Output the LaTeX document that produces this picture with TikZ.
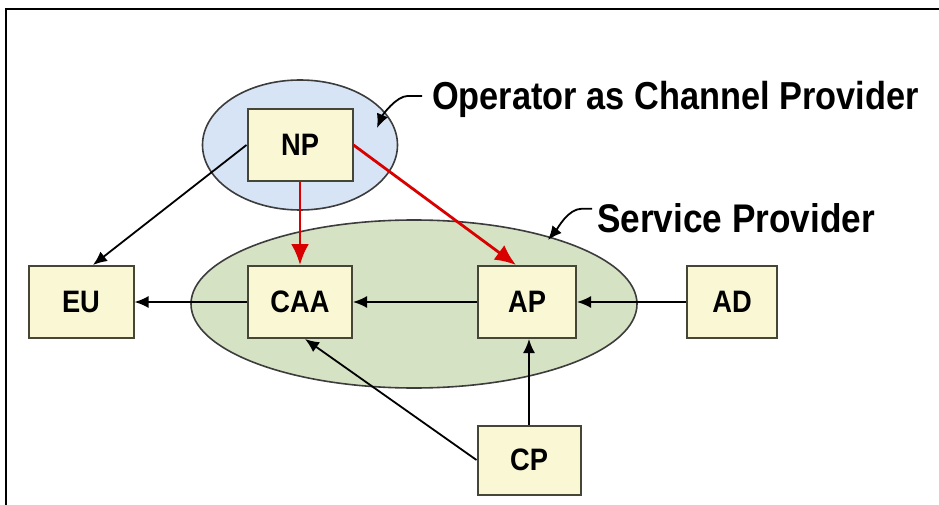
\documentclass[tikz,border=0pt]{standalone}
\usepackage{fontspec}
\setmainfont{Liberation Sans}[FakeStretch=0.88]
\usepackage{tikz}
\usetikzlibrary{arrows.meta,shapes.geometric,positioning}
\tikzset{>/.tip={Latex[length=14pt,width=12pt]}}
\tikzset{Big/.tip={Latex[length=21pt,width=18pt]}}
\definecolor{boxfill}{RGB}{250,247,212}
\definecolor{boxline}{RGB}{70,70,55}
\definecolor{ovalline}{RGB}{60,60,60}
\definecolor{bluefill}{RGB}{215,228,245}
\definecolor{greenfill}{RGB}{214,226,196}
\colorlet{alert}{red!85!black}
\tikzset{box/.style={draw=boxline,fill=boxfill,line width=2pt,minimum height=72pt,font=\fontsize{31}{33}\selectfont\bfseries}}
\tikzset{oval/.style={ellipse,draw=ovalline,line width=1.6pt,inner sep=0pt}}
\tikzset{link/.style={->,line width=1.8pt}}
\tikzset{alertlink/.style={-Big,draw=alert,line width=2.8pt}}
\tikzset{caption/.style={anchor=base west,inner sep=0pt,font=\fontsize{40}{44}\selectfont\bfseries}}

\begin{document}
\begin{tikzpicture}[x=1pt,y=-1pt]
        \useasboundingbox (0,0) rectangle (939,505);
        \draw[line width=2pt] (6,505) -- (6,9) -- (939,9);
        % groups
        \node(opOval)[oval,fill=bluefill,minimum width=195pt,minimum height=130pt] at (300,145){};
        \node(spOval)[oval,fill=greenfill,minimum width=446pt,minimum height=168pt] at (414,304){};
        % parties
        \node(NP)[box,minimum width=105pt] at (300,145){NP};
        \node(EU)[box,minimum width=105pt] at (81,302){EU};
        \node(CAA)[box,minimum width=104pt] at (300,302){CAA};
        \node(AP)[box,minimum width=98pt] at (527,302){AP};
        \node(AD)[box,minimum width=90pt] at (732,302){AD};
        \node(CP)[box,minimum width=103pt,minimum height=69pt] at (529,460){CP};
        % captions
        \node(opLabel)[caption,font=\fontsize{39}{44}\selectfont\bfseries] at (432,110){Operator as Channel Provider};
        \node(spLabel)[caption] at (597,232){Service Provider};
        \coordinate(opTip) at (377,128);
        \coordinate(spTip) at (548,240);
        \draw[link] ([xshift=-10pt,yshift=4pt]opLabel.west) -- ++(-14,0) .. controls +(-12,0) and +(5,-12) .. (opTip);
        \draw[link] ([xshift=-5pt,yshift=9pt]spLabel.west) -- ++(-10,0) .. controls +(-14,0) and +(10,-12) .. (spTip);
        % flows
        \draw[link] (NP.west) -- ([xshift=12pt]EU.north);
        \draw[alertlink] (NP) -- (CAA);
        \draw[alertlink] (NP.east) -- ([xshift=-11pt]AP.north);
        \draw[link] (CAA) -- (EU);
        \draw[link] (AP) -- (CAA);
        \draw[link] (AD) -- (AP);
        \draw[link] (CP.west) -- ([xshift=5pt]CAA.south);
        \draw[link] (CP) -- (CP |- AP.south);
      \end{tikzpicture}
\end{document}
